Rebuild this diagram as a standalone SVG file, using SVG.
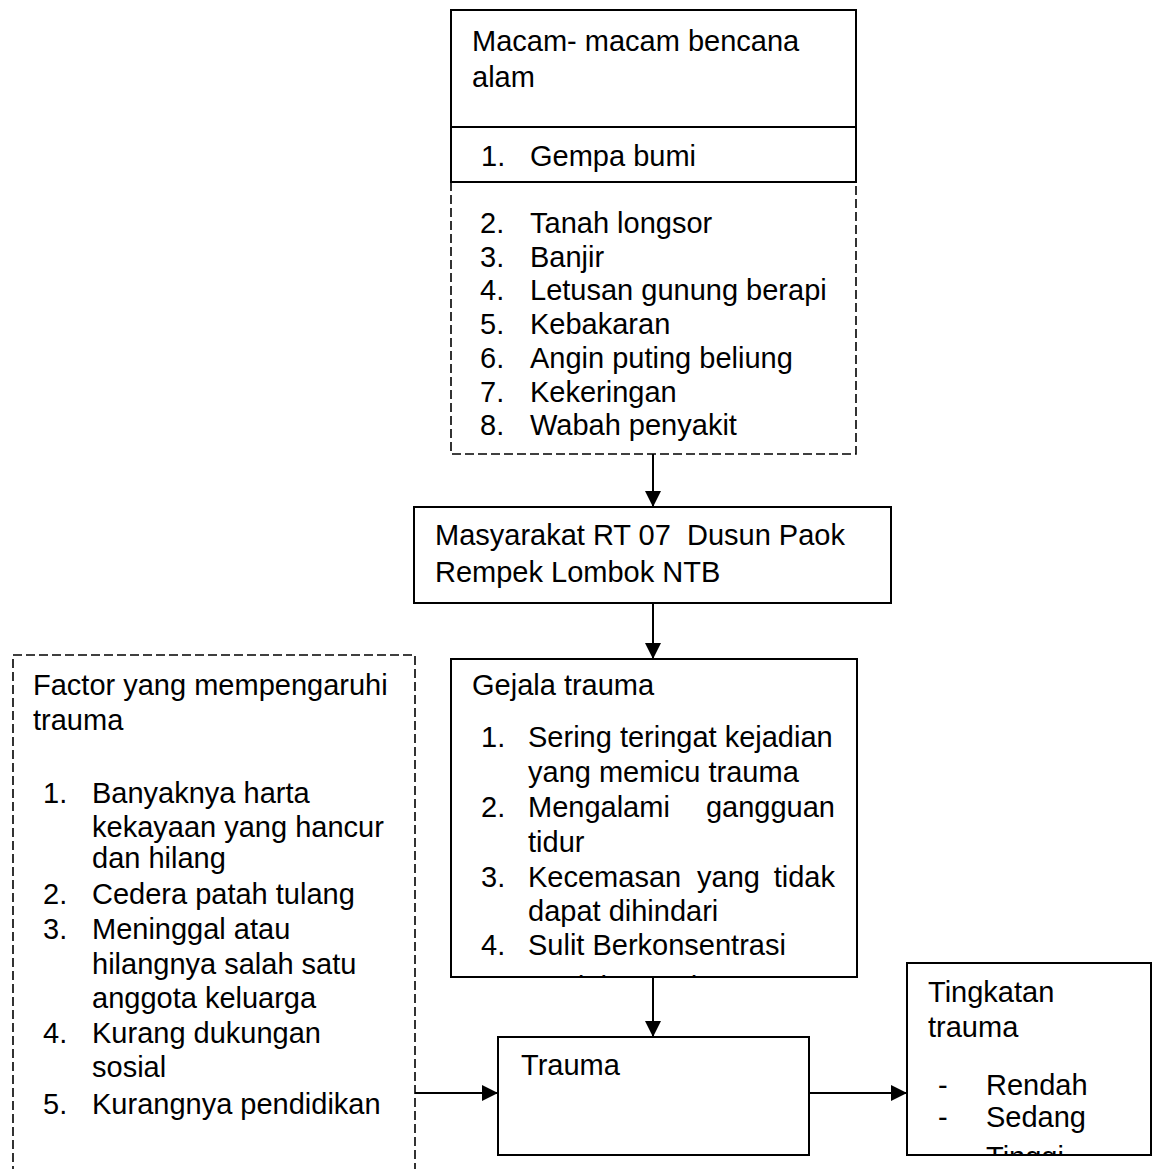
<svg xmlns="http://www.w3.org/2000/svg" width="1152" height="1169" viewBox="0 0 1152 1169">
<style>
  text { font-family: "Liberation Sans", Arial, sans-serif; font-size: 29px; fill: #000; }
  .solid { fill: #fff; stroke: #000; stroke-width: 2; }
  .dash { fill: none; stroke: #000; stroke-width: 1.6; stroke-dasharray: 9 4; }
  .line { fill: none; stroke: #000; stroke-width: 2; }
  .conn { stroke: #000; stroke-width: 2; fill: none; }
</style>
<defs>
  <marker id="arrow" markerWidth="16" markerHeight="16" refX="16" refY="8" orient="auto" markerUnits="userSpaceOnUse">
    <path d="M0,0 L16,8 L0,16 Z" fill="#000"/>
  </marker>
  <clipPath id="clipGejala"><rect x="451" y="659" width="406" height="317"/></clipPath>
  <clipPath id="clipTingkat"><rect x="907" y="963" width="244" height="192"/></clipPath>
</defs>
<rect width="1152" height="1169" fill="#fff"/>

<g id="node-macam">
  <rect class="solid" x="451" y="10" width="405" height="172"/>
  <line class="line" x1="451" y1="127" x2="856" y2="127"/>
  <path class="dash" d="M451,182 L451,454 L856,454 L856,182"/>
  <text x="472" y="51">Macam- macam bencana</text>
  <text x="472" y="87">alam</text>
  <text x="481" y="166">1.</text><text x="530" y="166">Gempa bumi</text>
  <text x="480" y="233">2.</text><text x="530" y="233">Tanah longsor</text>
  <text x="480" y="267">3.</text><text x="530" y="267">Banjir</text>
  <text x="480" y="300">4.</text><text x="530" y="300">Letusan gunung berapi</text>
  <text x="480" y="334">5.</text><text x="530" y="334">Kebakaran</text>
  <text x="480" y="368">6.</text><text x="530" y="368">Angin puting beliung</text>
  <text x="480" y="402">7.</text><text x="530" y="402">Kekeringan</text>
  <text x="480" y="435">8.</text><text x="530" y="435">Wabah penyakit</text>
</g>

<g id="node-masyarakat">
  <rect class="solid" x="414" y="507" width="477" height="96"/>
  <text x="435" y="545" xml:space="preserve">Masyarakat RT 07  Dusun Paok</text>
  <text x="435" y="582">Rempek Lombok NTB</text>
</g>

<g id="node-gejala">
  <rect class="solid" x="451" y="659" width="406" height="318"/>
  <g clip-path="url(#clipGejala)">
    <text x="472" y="695">Gejala trauma</text>
    <text x="481" y="747">1.</text><text x="528" y="747">Sering teringat kejadian</text>
    <text x="528" y="782">yang memicu trauma</text>
    <text x="481" y="817">2.</text><text x="528" y="817">Mengalami</text><text x="835" y="817" text-anchor="end">gangguan</text>
    <text x="528" y="852">tidur</text>
    <text x="481" y="887">3.</text><text x="528" y="887">Kecemasan</text><text x="697" y="887">yang</text><text x="835" y="887" text-anchor="end">tidak</text>
    <text x="528" y="921">dapat dihindari</text>
    <text x="481" y="955">4.</text><text x="528" y="955">Sulit Berkonsentrasi</text>
    <text x="481" y="997">5.</text><text x="528" y="997">Mudah marah</text>
  </g>
</g>

<g id="node-factor">
  <path class="dash" d="M13,1175 L13,655 L415,655 L415,1175"/>
  <text x="33" y="695">Factor yang mempengaruhi</text>
  <text x="33" y="730">trauma</text>
  <text x="43" y="803">1.</text><text x="92" y="803">Banyaknya harta</text>
  <text x="92" y="837">kekayaan yang hancur</text>
  <text x="92" y="868">dan hilang</text>
  <text x="43" y="904">2.</text><text x="92" y="904">Cedera patah tulang</text>
  <text x="43" y="939">3.</text><text x="92" y="939">Meninggal atau</text>
  <text x="92" y="974">hilangnya salah satu</text>
  <text x="92" y="1008">anggota keluarga</text>
  <text x="43" y="1043">4.</text><text x="92" y="1043">Kurang dukungan</text>
  <text x="92" y="1077">sosial</text>
  <text x="43" y="1114">5.</text><text x="92" y="1114">Kurangnya pendidikan</text>
</g>

<g id="node-trauma">
  <rect class="solid" x="498" y="1037" width="311" height="118"/>
  <text x="521" y="1075">Trauma</text>
</g>

<g id="node-tingkatan">
  <rect class="solid" x="907" y="963" width="244" height="192"/>
  <g clip-path="url(#clipTingkat)">
    <text x="928" y="1002">Tingkatan</text>
    <text x="928" y="1037">trauma</text>
    <text x="938" y="1095">-</text><text x="986" y="1095">Rendah</text>
    <text x="938" y="1127">-</text><text x="986" y="1127">Sedang</text>
    <text x="986" y="1167">Tinggi</text>
  </g>
</g>

<g id="connectors">
  <line class="conn" x1="653" y1="454" x2="653" y2="507" marker-end="url(#arrow)"/>
  <line class="conn" x1="653" y1="603" x2="653" y2="659" marker-end="url(#arrow)"/>
  <line class="conn" x1="653" y1="977" x2="653" y2="1037" marker-end="url(#arrow)"/>
  <line class="conn" x1="415" y1="1093" x2="498" y2="1093" marker-end="url(#arrow)"/>
  <line class="conn" x1="809" y1="1093" x2="907" y2="1093" marker-end="url(#arrow)"/>
</g>
</svg>
